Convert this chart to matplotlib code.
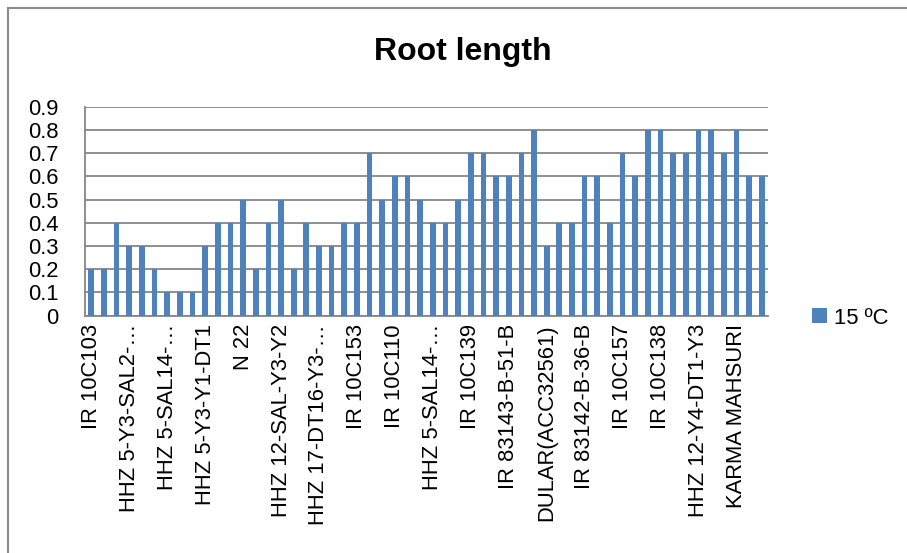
import numpy as np
import matplotlib.pyplot as plt
from matplotlib.lines import Line2D

# root length at 15 ºC, one value per genotype (54 genotypes)
root_length = [0.2, 0.2, 0.4, 0.3, 0.3, 0.2, 0.1, 0.1, 0.1, 0.3,
               0.4, 0.4, 0.5, 0.2, 0.4, 0.5, 0.2, 0.4, 0.3, 0.3,
               0.4, 0.4, 0.7, 0.5, 0.6, 0.6, 0.5, 0.4, 0.4, 0.5,
               0.7, 0.7, 0.6, 0.6, 0.7, 0.8, 0.3, 0.4, 0.4, 0.6,
               0.6, 0.4, 0.7, 0.6, 0.8, 0.8, 0.7, 0.7, 0.8, 0.8,
               0.7, 0.8, 0.6, 0.6]

# only every third genotype name is shown on the axis
shown_labels = ['IR 10C103', 'HHZ 5-Y3-SAL2-…', 'HHZ 5-SAL14-…', 'HHZ 5-Y3-Y1-DT1',
                'N 22', 'HHZ 12-SAL-Y3-Y2', 'HHZ 17-DT16-Y3-…', 'IR 10C153',
                'IR 10C110', 'HHZ 5-SAL14-…', 'IR 10C139', 'IR 83143-B-51-B',
                'DULAR(ACC32561)', 'IR 83142-B-36-B', 'IR 10C157', 'IR 10C138',
                'HHZ 12-Y4-DT1-Y3', 'KARMA MAHSURI']
label_step = 3
series_name = '15 ºC'
y_ticks = [0, 0.1, 0.2, 0.3, 0.4, 0.5, 0.6, 0.7, 0.8, 0.9]

plt.rcParams['font.family'] = ['Liberation Sans', 'DejaVu Sans']

W, H = 907, 553
fig = plt.figure(figsize=(W / 100, H / 100), dpi=100)
ax = fig.add_axes([85 / W, 1 - 315.7 / H, (768 - 85) / W, (315.7 - 106.7) / H])

x = np.arange(len(root_length))
ax.bar(x, root_length, width=0.45, color='#4F81BD', label=series_name, zorder=3)

ax.set_xlim(-0.5, len(root_length) - 0.5)
ax.set_ylim(0, 0.9)
ax.set_yticks(y_ticks)
ax.set_yticklabels(['0' if v == 0 else f'{v:.1f}' for v in y_ticks], fontsize=15.8)
ax.set_xticks(x[::label_step])
ax.set_xticklabels(shown_labels, rotation=90, fontsize=15.8, va='top', ha='center')
ax.tick_params(axis='both', length=0)
ax.tick_params(axis='y', pad=19)
ax.tick_params(axis='x', pad=6)

ax.grid(axis='y', color='#868686', linewidth=1.3, zorder=0)
for side in ['top', 'right']:
    ax.spines[side].set_visible(False)
for side in ['left', 'bottom']:
    ax.spines[side].set_color('#868686')
    ax.spines[side].set_linewidth(1.3)

fig.text(463 / W, 1 - 52 / H, 'Root length', fontsize=23, fontweight='bold',
         ha='center', va='center')

ax.legend(loc='center left', bbox_to_anchor=(812 / W, 1 - 318 / H),
          bbox_transform=fig.transFigure, frameon=False, fontsize=15.8,
          handlelength=0.68, handleheight=0.68, handletextpad=0.3,
          borderpad=0, borderaxespad=0)

# chart frame (only top and left edges fall inside the picture)
fig.add_artist(Line2D([8 / W, 1], [1 - 8 / H, 1 - 8 / H], color='#8c8c8c', linewidth=1.5))
fig.add_artist(Line2D([8 / W, 8 / W], [0, 1 - 8 / H], color='#8c8c8c', linewidth=1.5))

fig.savefig('out.png', dpi=100)
